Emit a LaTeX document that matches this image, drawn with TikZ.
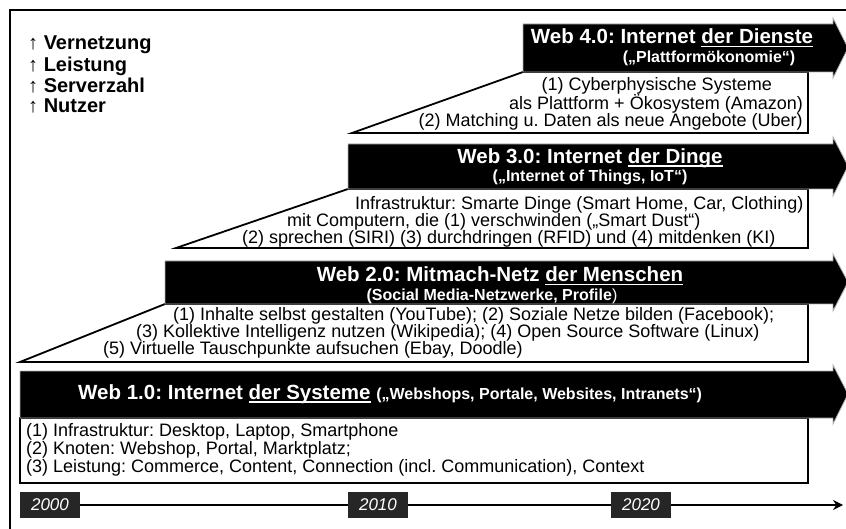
\documentclass[tikz,border=0pt]{standalone}
\usepackage{fontspec}
\setmainfont{Liberation Sans}
\usetikzlibrary{arrows.meta}
\definecolor{yeargray}{RGB}{38,38,38}
\frenchspacing
\newlength{\ulbreite}
\newcommand{\unterstrich}[1]{\settowidth{\ulbreite}{#1}\rlap{\rule[-3.5pt]{\ulbreite}{1.5pt}}#1}

\begin{document}
\begin{tikzpicture}[x=1pt, y=-1pt,
  band/.style={fill=black, draw=gray!60, line width=0.8pt},
  panel/.style={fill=white, draw=black, line width=1.8pt},
  headline/.style={text=white, font=\fontsize{20.5}{22}\selectfont\bfseries, inner sep=0pt},
  subline/.style={text=white, font=\fontsize{16}{18}\selectfont\bfseries, inner sep=0pt},
  bodyline/.style={font=\fontsize{18}{19}\selectfont, inner sep=0pt},
  trendline/.style={font=\fontsize{20}{21}\selectfont\bfseries, anchor=west, inner sep=0pt},
  yearbox/.style={fill=yeargray, text=white, font=\fontsize{17}{19}\selectfont\itshape,
                  minimum width=60pt, minimum height=26pt, inner sep=0pt}]

  \useasboundingbox (0,0) rectangle (846,529);
  % frame (cut at the right and the bottom)
  \draw[line width=2.5pt] (10,535) -- (10,10) -- (852,10);

  % trends
  \node[trendline] (trend1) at (28,45)  {{\mdseries ↑} Vernetzung};
  \node[trendline] (trend2) at (28,66)  {{\mdseries ↑} Leistung};
  \node[trendline] (trend3) at (28,86)  {{\mdseries ↑} Serverzahl};
  \node[trendline] (trend4) at (28,106) {{\mdseries ↑} Nutzer};

  % Web 4.0
  \draw[panel] (352,133) -- (523,72) -- (808,72) -- (808,133) -- cycle;
  \draw[band] (523,24) -- (833,24) -- (833,18) -- (848,48) -- (833,78) -- (833,72) -- (523,72) -- cycle;
  \node[headline] (w4title) at (672,38) {Web 4.0: Internet \unterstrich{der Dienste}};
  \node[subline]  (w4sub)   at (709,58) {(„Plattformökonomie“)};
  \node[bodyline, anchor=east] (w4a) at (772,86)  {(1) Cyberphysische Systeme};
  \node[bodyline, anchor=east] (w4b) at (803,104) {als Plattform + Ökosystem (Amazon)};
  \node[bodyline, anchor=east] (w4c) at (803,122) {(2) Matching u. Daten als neue Angebote (Uber)};

  % Web 3.0
  \draw[panel] (176,248) -- (348,189) -- (808,189) -- (808,248) -- cycle;
  \draw[band] (348,144) -- (833,144) -- (833,137) -- (848,166) -- (833,196) -- (833,189) -- (348,189) -- cycle;
  \node[headline] (w3title) at (590,158) {Web 3.0: Internet \unterstrich{der Dinge}};
  \node[subline]  (w3sub)   at (590,177) {(„Internet of Things, IoT“)};
  \node[bodyline, anchor=west] (w3a) at (355,205) {Infrastruktur: Smarte Dinge (Smart Home, Car, Clothing)};
  \node[bodyline, anchor=west] (w3b) at (287,222) {mit Computern, die (1) verschwinden („Smart Dust“)};
  \node[bodyline, anchor=west] (w3c) at (242,239) {(2) sprechen (SIRI) (3) durchdringen (RFID) und (4) mitdenken (KI)};

  % Web 2.0
  \draw[panel] (20,362) -- (165,304) -- (808,304) -- (808,362) -- cycle;
  \draw[band] (165,261) -- (833,261) -- (833,254) -- (848,282) -- (833,311) -- (833,304) -- (165,304) -- cycle;
  \node[headline] (w2title) at (500,276) {Web 2.0: Mitmach-Netz \unterstrich{der Menschen}};
  \node[subline]  (w2sub)   at (492,296) {(Social Media-Netzwerke, Profile{\mdseries)}};
  \node[bodyline, anchor=west] (w2a) at (173,316) {(1) Inhalte selbst gestalten (YouTube); (2) Soziale Netze bilden (Facebook);};
  \node[bodyline, anchor=west] (w2b) at (136,333) {(3) Kollektive Intelligenz nutzen (Wikipedia); (4) Open Source Software (Linux)};
  \node[bodyline, anchor=west] (w2c) at (103,350) {(5) Virtuelle Tauschpunkte aufsuchen (Ebay, Doodle)};

  % Web 1.0
  \draw[panel] (20,418) rectangle (808,483);
  \draw[band] (20,371) -- (833,371) -- (833,365) -- (848,394) -- (833,424) -- (833,418) -- (20,418) -- cycle;
  \node[headline, anchor=west] (w1title) at (78,394)
    {Web 1.0: Internet \unterstrich{der Systeme} {\fontsize{16}{18}\selectfont(„Webshops, Portale, Websites, Intranets“)}};
  \node[bodyline, anchor=west] (w1a) at (26,432) {(1) Infrastruktur: Desktop, Laptop, Smartphone};
  \node[bodyline, anchor=west] (w1b) at (26,450) {(2) Knoten: Webshop, Portal, Marktplatz;};
  \node[bodyline, anchor=west] (w1c) at (26,468) {(3) Leistung: Commerce, Content, Connection (incl. Communication), Context};

  % timeline
  \node[yearbox] (y2000) at (50,505)  {2000};
  \node[yearbox] (y2010) at (378,505) {2010};
  \node[yearbox] (y2020) at (641,505) {2020};
  \coordinate (tend) at (843,505);
  \draw[line width=1.8pt] (y2000) -- (y2010);
  \draw[line width=1.8pt] (y2010) -- (y2020);
  \draw[line width=1.8pt, -{Stealth[length=10pt, width=10pt]}] (y2020) -- (tend);
\end{tikzpicture}
\end{document}
